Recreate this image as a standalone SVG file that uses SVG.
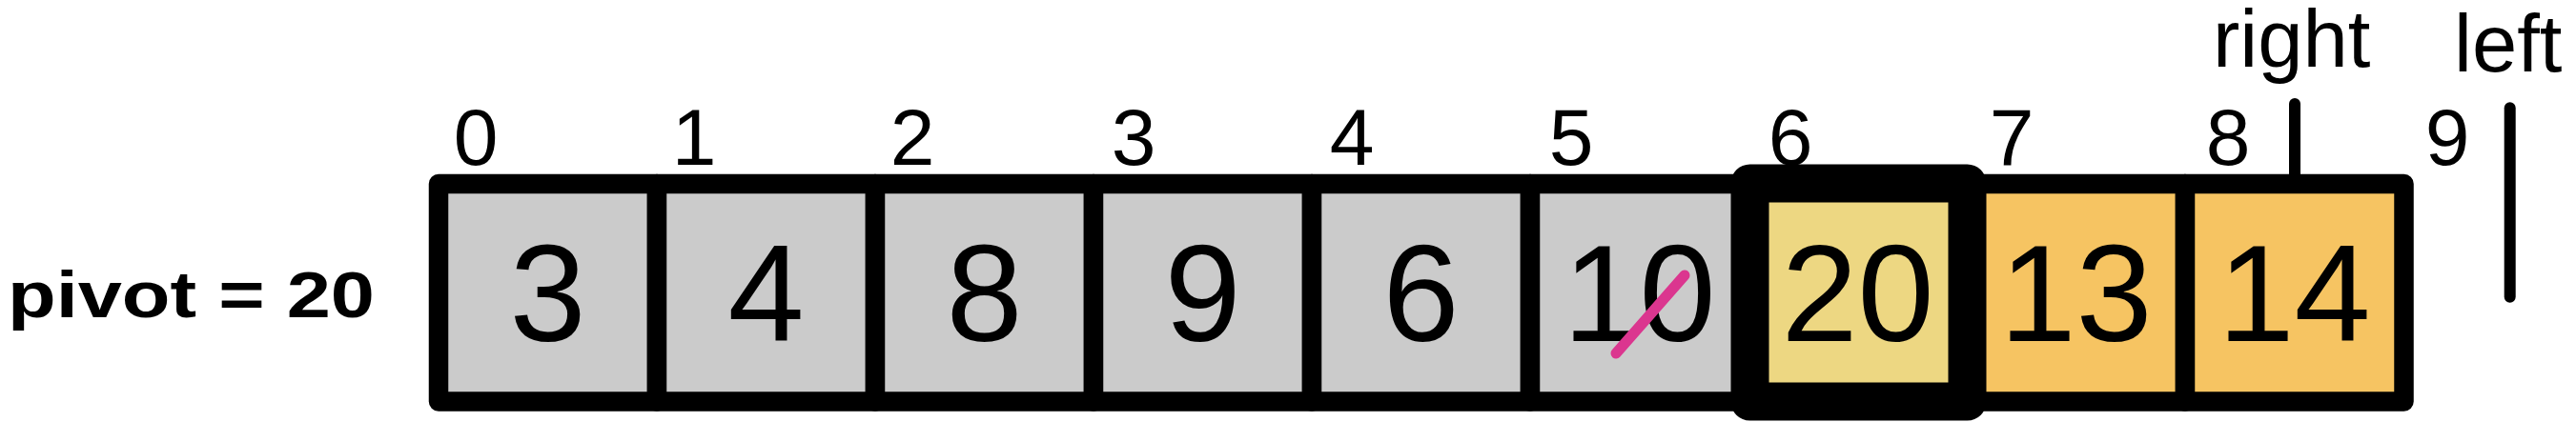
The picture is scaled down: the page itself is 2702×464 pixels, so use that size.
<svg xmlns="http://www.w3.org/2000/svg" width="2702" height="464" viewBox="0 0 2702 464">
<style>
.cell{stroke:#000;stroke-width:20.5;stroke-linejoin:round}
.gray{fill:#cbcbcb}
.orange{fill:#f6c462}
.pivot{fill:#edd782;stroke:#000;stroke-width:40;stroke-linejoin:round}
.val{font-family:"Liberation Sans",Arial,Helvetica,sans-serif;font-size:144px;fill:#000;text-anchor:middle}
.idx{font-family:"Liberation Sans",Arial,Helvetica,sans-serif;font-size:84px;fill:#000;text-anchor:middle}
.lbl{font-family:"Liberation Sans",Arial,Helvetica,sans-serif;font-size:85px;fill:#000}
.ptr{stroke:#000;stroke-width:12;stroke-linecap:round;fill:none}
</style>
<rect width="2702" height="464" fill="#fff"/>
<g id="pivot-label">
<text x="8" y="333" font-family="'Liberation Sans',Arial,Helvetica,sans-serif" font-weight="bold" font-size="69" textLength="385" lengthAdjust="spacingAndGlyphs">pivot = 20</text>
</g>
<g id="cell0"><rect class="cell gray" x="460" y="193" width="229" height="228.5"/><text class="val" x="574.5" y="358">3</text></g>
<g id="cell1"><rect class="cell gray" x="689" y="193" width="229" height="228.5"/><text class="val" x="803.5" y="358">4</text></g>
<g id="cell2"><rect class="cell gray" x="918" y="193" width="229" height="228.5"/><text class="val" x="1032.5" y="358">8</text></g>
<g id="cell3"><rect class="cell gray" x="1147" y="193" width="229" height="228.5"/><text class="val" x="1261.5" y="358">9</text></g>
<g id="cell4"><rect class="cell gray" x="1376" y="193" width="229" height="228.5"/><text class="val" x="1490.5" y="358">6</text></g>
<g id="cell5"><rect class="cell gray" x="1605" y="193" width="229" height="228.5"/><text class="val" x="1719.5" y="358">10</text>
<line x1="1695" y1="371" x2="1767" y2="289" stroke="#db368f" stroke-width="11" stroke-linecap="round"/></g>
<g id="cell7"><rect class="cell orange" x="2063" y="193" width="229" height="228.5"/><text class="val" x="2177.5" y="358">13</text></g>
<g id="cell8"><rect class="cell orange" x="2292" y="193" width="229.5" height="228.5"/><text class="val" x="2406.5" y="358">14</text></g>
<g id="cell6"><rect class="pivot" x="1835.5" y="192.5" width="228" height="229"/><text class="val" x="1948.5" y="358">20</text></g>
<g id="indices">
<text class="idx" x="499" y="173">0</text>
<text class="idx" x="728" y="173">1</text>
<text class="idx" x="957" y="173">2</text>
<text class="idx" x="1189" y="173">3</text>
<text class="idx" x="1418" y="173">4</text>
<text class="idx" x="1648" y="173">5</text>
<text class="idx" x="1878" y="173">6</text>
<text class="idx" x="2110" y="173">7</text>
<text class="idx" x="2337" y="173">8</text>
<text class="idx" x="2567" y="173">9</text>
</g>
<g id="right-pointer"><text class="lbl" x="2321" y="70">right</text></g>
<g id="left-pointer"><text class="lbl" x="2574" y="75">left</text></g>
<g id="connectors">
<line class="ptr" x1="2407" y1="109" x2="2407" y2="192"/>
<line class="ptr" x1="2632.7" y1="113.3" x2="2632.7" y2="311.7"/>
</g>
</svg>
